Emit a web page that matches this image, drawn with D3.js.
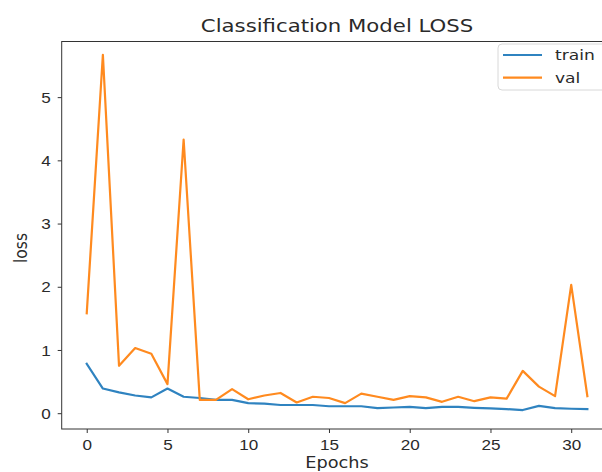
<!DOCTYPE html>
<html>
<head>
<meta charset="utf-8">
<script src="https://cdn.jsdelivr.net/npm/d3@7"></script>
<style>
  body { margin: 0; background: #fff; }
  svg { display: block; font-family: "DejaVu Sans", sans-serif; }
</style>
</head>
<body>
<svg id="chart" width="602" height="472"></svg>
<script>
// loss per epoch
let epochs = d3.range(0, 32);
let trainLoss = [0.78, 0.39, 0.33, 0.28, 0.25, 0.39, 0.26, 0.24, 0.21, 0.21,
                 0.16, 0.15, 0.13, 0.13, 0.13, 0.11, 0.11, 0.11, 0.08, 0.09,
                 0.10, 0.08, 0.10, 0.10, 0.085, 0.075, 0.065, 0.05, 0.115, 0.08,
                 0.07, 0.065];
let valLoss = [1.58, 5.67, 0.75, 1.03, 0.94, 0.46, 4.33, 0.21, 0.21, 0.38,
               0.22, 0.28, 0.32, 0.17, 0.26, 0.24, 0.16, 0.31, 0.26, 0.21,
               0.27, 0.25, 0.18, 0.26, 0.19, 0.25, 0.23, 0.67, 0.42, 0.27,
               2.03, 0.27];
let xTicks = [0, 5, 10, 15, 20, 25, 30];
let yTicks = [0, 1, 2, 3, 4, 5];
let seriesNames = ['train', 'val'];
let seriesColors = ['#2f83c0', '#ff8a1f'];

// the source picture is stretched sideways a bit, text too
const SX = 1.18;

const svg = d3.select('#chart');
const plotLeft = 61.7, plotRight = 612.4, plotTop = 41.5, plotBottom = 429;

const x = d3.scaleLinear().domain([-1.55, 32.55]).range([plotLeft, plotRight]);
const y = d3.scaleLinear().domain([-0.25, 5.88]).range([plotBottom, plotTop]);

//axes
const xAxis = svg.append('g')
    .attr('transform', `translate(0,${plotBottom})`)
    .call(d3.axisBottom(x).tickValues(xTicks).tickFormat(d3.format('d'))
        .tickSize(4).tickPadding(7).tickSizeOuter(0));
const yAxis = svg.append('g')
    .attr('transform', `translate(${plotLeft},0)`)
    .call(d3.axisLeft(y).tickValues(yTicks).tickFormat(d3.format('d'))
        .tickSize(4).tickPadding(5.3).tickSizeOuter(0));

[xAxis, yAxis].forEach(function(ax) {
    ax.select('.domain').remove();
    ax.selectAll('.tick line').attr('stroke', '#333').attr('stroke-width', 1);
    ax.selectAll('.tick text')
        .attr('fill', '#2a2a2a')
        .style('font-size', '14.5px')
        .attr('transform', `scale(${SX},1)`);
});
yAxis.selectAll('.tick text').attr('dy', '0.36em');

//lines
const line = d3.line().x((d, i) => x(epochs[i])).y(d => y(d));
[trainLoss, valLoss].forEach(function(values, k) {
    svg.append('path')
        .datum(values)
        .attr('d', line)
        .attr('fill', 'none')
        .attr('stroke', seriesColors[k])
        .attr('stroke-width', 2.2)
        .attr('stroke-linejoin', 'round')
        .attr('stroke-linecap', 'square');
});

//spines
svg.append('rect')
    .attr('x', plotLeft).attr('y', plotTop)
    .attr('width', plotRight - plotLeft).attr('height', plotBottom - plotTop)
    .attr('fill', 'none').attr('stroke', '#333').attr('stroke-width', 1);

//texts
function stretchedText(tx, ty, str, size) {
    return svg.append('text')
        .attr('transform', `translate(${tx},${ty}) scale(${SX},1)`)
        .attr('fill', '#2a2a2a')
        .style('font-size', size + 'px')
        .text(str);
}
stretchedText((plotLeft + plotRight) / 2, 31.5, 'Classification Model LOSS', 18)
    .attr('text-anchor', 'middle');
stretchedText((plotLeft + plotRight) / 2, 467.5, 'Epochs', 15)
    .attr('text-anchor', 'middle');
svg.append('text')
    .attr('transform', `translate(27,248) scale(${SX},1) rotate(-90)`)
    .attr('text-anchor', 'middle')
    .attr('fill', '#2a2a2a')
    .style('font-size', '15.5px')
    .text('loss');

//legend
const legend = svg.append('g');
legend.append('rect')
    .attr('x', 498).attr('y', 44).attr('width', 110).attr('height', 46)
    .attr('rx', 4)
    .attr('fill', '#fff').attr('fill-opacity', 0.8)
    .attr('stroke', '#d8d8d8').attr('stroke-width', 1);
seriesNames.forEach(function(name, k) {
    let ly = 55 + k * 22.7;
    legend.append('line')
        .attr('x1', 503).attr('x2', 542).attr('y1', ly).attr('y2', ly)
        .attr('stroke', seriesColors[k]).attr('stroke-width', 2.2);
    stretchedText(555, ly + 5, name, 14.5);
});
</script>
</body>
</html>
